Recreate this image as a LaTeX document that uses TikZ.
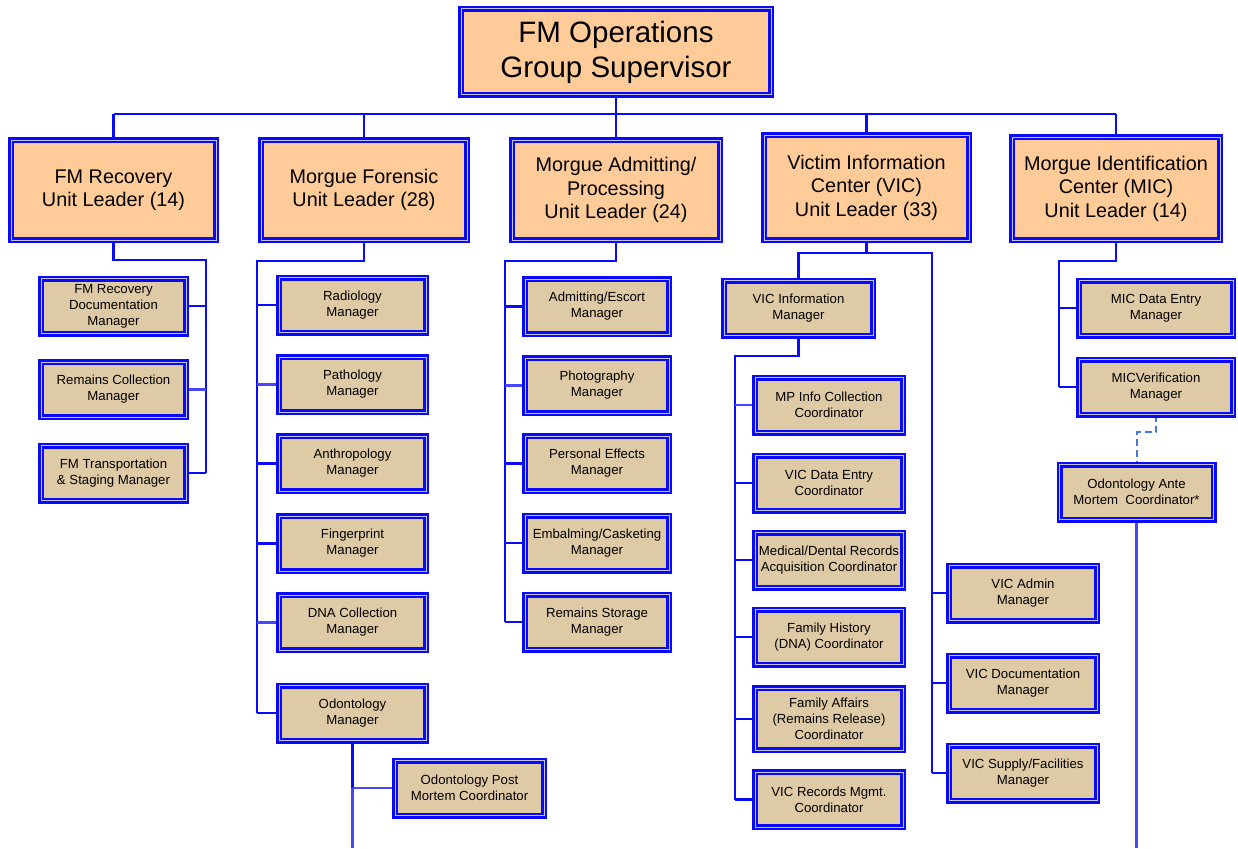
\documentclass[tikz,border=0pt]{standalone}
\usepackage{fontspec}
\setmainfont{Liberation Sans}
\usetikzlibrary{backgrounds}

\definecolor{lineblue}{RGB}{10,10,250}
\definecolor{paleblue}{RGB}{70,70,250}
\definecolor{rimgray}{RGB}{196,194,222}
\definecolor{peach}{RGB}{255,204,153}
\definecolor{tan}{RGB}{223,202,166}
\definecolor{dashblue}{RGB}{70,120,212}

\tikzset{
  box/.style={rectangle, draw=lineblue, line width=2.5pt, double=rimgray,
    double distance=1pt, inner sep=0pt, outer sep=0pt, align=center},
  chief/.style={box, fill=peach, font=\fontsize{29.5}{35}\selectfont,
    minimum width=310pt, minimum height=86pt},
  leader/.style={box, fill=peach, font=\fontsize{19.8}{23.5}\selectfont,
    minimum height=100pt},
  staff/.style={box, fill=tan, font=\fontsize{13.2}{16}\selectfont,
    minimum height=55pt},
  conn/.style={draw=lineblue, line width=2.6pt},
  faint/.style={draw=paleblue, line width=2.2pt},
  dotted link/.style={draw=dashblue, line width=2pt, dash pattern=on 7pt off 4pt},
}

\begin{document}
\begin{tikzpicture}[x=1pt, y=-1pt]
\useasboundingbox (0,0) rectangle (1238,848);

% ---- top of the group
\node[chief] (gs) at (616,52) {FM Operations\\Group Supervisor};

% ---- unit leaders
\node[leader, minimum width=205pt] (ur)  at (113.5,190)   {FM Recovery\\Unit Leader (14)};
\node[leader, minimum width=206pt] (mf)  at (364,190)     {Morgue Forensic\\Unit Leader (28)};
\node[leader, minimum width=208pt] (ma)  at (616,190)     {Morgue Admitting/\\Processing\\Unit Leader (24)};
\node[leader, minimum width=205pt, minimum height=105pt] (vic) at (866.5,187.5) {Victim Information\\Center (VIC)\\Unit Leader (33)};
\node[leader, minimum width=208pt, minimum height=103pt] (mic) at (1116,188.5) {Morgue Identification\\Center (MIC)\\Unit Leader (14)};

% ---- FM Recovery unit
\begin{scope}[every node/.style={staff, minimum width=145pt}]
\node (ur1) at (113.5,306)   {FM Recovery\\Documentation\\Manager};
\node (ur2) at (113.5,389.5) {Remains Collection\\Manager};
\node (ur3) at (113.5,473)   {FM Transportation\\\& Staging Manager};
\end{scope}

% ---- Morgue Forensic unit
\begin{scope}[every node/.style={staff, minimum width=147pt}]
\node (mf1) at (352.5,305)   {Radiology\\Manager};
\node (mf2) at (352.5,384.5) {Pathology\\Manager};
\node (mf3) at (352.5,463.5) {Anthropology\\Manager};
\node (mf4) at (352.5,543.5) {Fingerprint\\Manager};
\node (mf5) at (352.5,622.5) {DNA Collection\\Manager};
\node (odo) at (352.5,713)   {Odontology\\Manager};
\end{scope}
\node[staff, minimum width=149pt] (op) at (469.5,788) {Odontology Post\\Mortem Coordinator};

% ---- Morgue Admitting/Processing unit
\begin{scope}[every node/.style={staff, minimum width=144pt}]
\node (ma1) at (597,306.5) {Admitting/Escort\\Manager};
\node (ma2) at (597,385.5) {Photography\\Manager};
\node (ma3) at (597,463.5) {Personal Effects\\Manager};
\node (ma4) at (597,543)   {Embalming/Casketing\\Manager};
\node (ma5) at (597,622)   {Remains Storage\\Manager};
\end{scope}

% ---- Victim Information Center
\node[staff, minimum width=149pt] (vi) at (798.5,308) {VIC Information\\Manager};
\begin{scope}[every node/.style={staff, minimum width=148pt}]
\node (vc1) at (829,405)   {MP Info Collection\\Coordinator};
\node (vc2) at (829,483)   {VIC Data Entry\\Coordinator};
\node (vc3) at (829,560)   {Medical/Dental Records\\Acquisition Coordinator};
\node (vc4) at (829,637)   {Family History\\(DNA) Coordinator};
\node[minimum height=62pt] (vc5) at (829,719) {Family Affairs\\(Remains Release)\\Coordinator};
\node (vc6) at (829,799.5) {VIC Records Mgmt.\\Coordinator};
\node (va1) at (1023,593)  {VIC Admin\\Manager};
\node (va2) at (1023,683)  {VIC Documentation\\Manager};
\node (va3) at (1023,773)  {VIC Supply/Facilities\\Manager};
\end{scope}

% ---- Morgue Identification Center
\begin{scope}[every node/.style={staff, minimum width=154pt}]
\node (md) at (1156,308) {MIC Data Entry\\Manager};
\node (mv) at (1156,387) {MICVerification\\Manager};
\node (ante) at (1136.5,492) {Odontology Ante\\Mortem~~Coordinator*};
\end{scope}

% ---- junction points of the connectors
\coordinate (busL) at (113.5,114);
\coordinate (busR) at (1116,114);
\coordinate (urK)  at (206,260);
\coordinate (mfK)  at (257,261);
\coordinate (maK)  at (505,261);
\coordinate (vicL) at (798.5,253);
\coordinate (vicR) at (932,253);
\coordinate (viK)  at (735,356);
\coordinate (micK) at (1059,261);
\coordinate (dJ)   at (1136.5,432);
\coordinate (odoEnd)  at (352.5,848);
\coordinate (anteEnd) at (1136.5,848);

\begin{scope}[on background layer]
  \fill[white] (0,0) rectangle (1238,848);

  % group bus
  \draw[conn] (gs.south) -- (gs.south |- busL);
  \draw[conn] (busL) -- (busR);
  \foreach \u in {ur,mf,ma,vic,mic} \draw[conn] (\u.north) -- (\u.north |- busL);

  % FM Recovery
  \draw[conn] (ur.south) |- (urK) -- (urK |- ur3.east);
  \draw[conn] (ur1.east) -- (ur1.east -| urK);
  \draw[faint] (ur2.east) -- (ur2.east -| urK);
  \draw[conn] (ur3.east) -- (ur3.east -| urK);

  % Morgue Forensic
  \draw[conn] (mf.south) |- (mfK) -- (mfK |- odo.west);
  \foreach \s in {mf1,mf3,mf4,odo} \draw[conn] (\s.west) -- (\s.west -| mfK);
  \foreach \s in {mf2,mf5} \draw[faint] (\s.west) -- (\s.west -| mfK);
  \draw[conn] (odo.south) -- (odo.south |- op.west);
  \draw[faint] (odo.south |- op.west) -- (op.west);
  \draw[faint] (odo.south |- op.west) -- (odoEnd);

  % Morgue Admitting/Processing
  \draw[conn] (ma.south) |- (maK) -- (maK |- ma5.west);
  \foreach \s in {ma1,ma3,ma4,ma5} \draw[conn] (\s.west) -- (\s.west -| maK);
  \draw[faint] (ma2.west) -- (ma2.west -| maK);

  % Victim Information Center
  \draw[conn] (vic.south) -- (vic.south |- vicR);
  \draw[conn] (vi.north) -- (vicL) -- (vicR) -- (vicR |- va3.west);
  \foreach \s in {va1,va2,va3} \draw[conn] (\s.west) -- (\s.west -| vicR);
  \draw[conn] (vi.south) |- (viK) -- (viK |- vc6.west);
  \foreach \s in {vc2,vc3,vc4,vc5,vc6} \draw[conn] (\s.west) -- (\s.west -| viK);
  \draw[faint] (vc1.west) -- (vc1.west -| viK);

  % Morgue Identification Center
  \draw[conn] (mic.south) |- (micK) -- (micK |- mv.west);
  \foreach \s in {md,mv} \draw[conn] (\s.west) -- (\s.west -| micK);
  \draw[dotted link] (mv.south) |- (dJ) -- (ante.north);
  \draw[faint] (ante.south) -- (anteEnd);
\end{scope}
\end{tikzpicture}
\end{document}
